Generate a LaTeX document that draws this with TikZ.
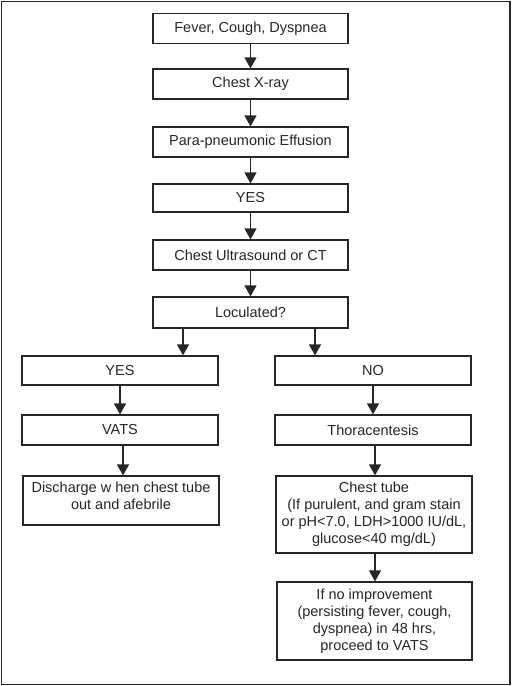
\documentclass[tikz,border=0pt]{standalone}
\usepackage{fontspec}
\setmainfont{Liberation Sans}
\usetikzlibrary{arrows.meta}
\begin{document}
\begin{tikzpicture}[x=1pt, y=-1pt, line join=miter, >={Triangle[width=12pt,length=11pt]},
  font=\fontsize{14.5}{17}\selectfont]
			\tikzset{box/.style={draw=black!85, line width=1.2pt, minimum width=195pt, minimum height=30pt,
			    align=center, inner sep=2pt, text=black!85},
			  arr/.style={->, line width=1.3pt, draw=black!85}}
			\useasboundingbox (0,0) rectangle (515,686);
			\draw[line width=1.6pt, black!85] (1.5,1.5) rectangle (510,684.5);
			% main column
			\node[box] (fever) at (250.5,28.5) {Fever, Cough, Dyspnea};
			\node[box] (xray) at (250.5,84) {Chest X-ray};
			\node[box] (effusion) at (250.5,142) {Para-pneumonic Effusion};
			\node[box, minimum height=28pt] (yes) at (250.5,198) {YES};
			\node[box] (imaging) at (250.5,255) {Chest Ultrasound or CT};
			\node[box, minimum height=31pt] (loculated) at (250.5,312.5) {Loculated?};
			% two branches
			\node[box, minimum width=196pt, minimum height=29pt] (locyes) at (120,370.5) {YES};
			\node[box, minimum width=196pt, minimum height=29pt] (locno) at (373,370.5) {NO};
			\node[box, minimum width=196pt] (vats) at (120,430) {VATS};
			\node[box, minimum width=196pt] (thora) at (373,430) {Thoracentesis};
			\node[box, minimum width=196pt, minimum height=49pt] (discharge) at (121,500.5)
			  {Discharge w hen chest tube\\out and afebrile\\[-7pt]\mbox{}};
			\node[box, minimum width=196pt, minimum height=77pt] (tube) at (374,514.5)
			  {Chest tube\\(If purulent, and gram stain\\or pH<7.0, LDH>1000 IU/dL,\\glucose<40 mg/dL)};
			\node[box, minimum width=195pt, minimum height=78pt] (noimprove) at (374.5,621)
			  {If no improvement\\(persisting fever, cough,\\dyspnea) in 48 hrs,\\proceed to VATS};
			% connectors
			\draw[arr] (fever) -- (xray);
			\draw[arr] (xray) -- (effusion);
			\draw[arr] (effusion) -- (yes);
			\draw[arr] (yes) -- (imaging);
			\draw[arr] (imaging) -- (loculated);
			\draw[arr] (loculated.south -| 183,0) -- (locyes.north -| 183,0);
			\draw[arr] (loculated.south -| 315,0) -- (locno.north -| 315,0);
			\draw[arr] (locyes) -- (vats);
			\draw[arr] (locno) -- (thora);
			\draw[arr] (vats.south -| 123,0) -- (discharge.north -| 123,0);
			\draw[arr] (thora.south -| 375,0) -- (tube.north -| 375,0);
			\draw[arr] (tube.south -| 375,0) -- (noimprove.north -| 375,0);
		\end{tikzpicture}
\end{document}
